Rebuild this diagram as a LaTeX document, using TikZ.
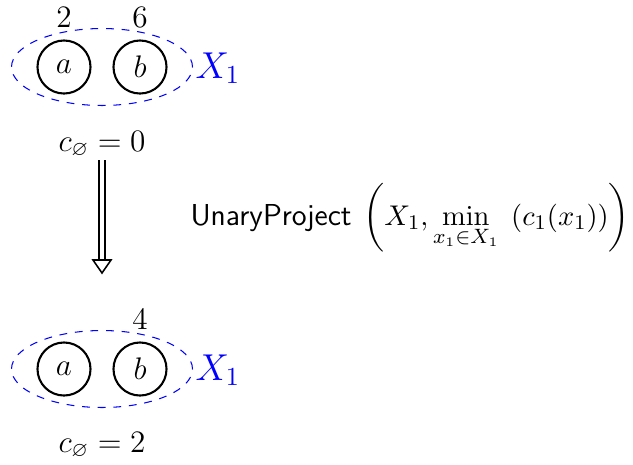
\documentclass[tikz,border=0pt]{standalone}
\usepackage{amsmath,amssymb}
\usetikzlibrary{shapes.geometric}
\begin{document}
\begin{tikzpicture}[x=0.3846pt,y=-0.3846pt,
  var/.style={circle,draw,thick,minimum size=20.4pt,inner sep=0pt,font=\large},
  grp/.style={ellipse,draw=blue,dashed,minimum width=69.6pt,minimum height=29.6pt,inner sep=0pt},
  wt/.style={anchor=base,inner sep=0pt,font=\large},
  setlbl/.style={anchor=base west,inner sep=0pt,text=blue,font=\Large},
  cost/.style={anchor=base,inner sep=0pt,font=\large}]
\useasboundingbox (0,0) rectangle (633,464);
% top
\node[grp] (g1) at (102,67) {};
\node[var] (a1) at (64,67) {$a$};
\node[var] (b1) at (140,67) {$b$};
\node[wt] (w2) at (64,27) {$2$};
\node[wt] (w6) at (140,27) {$6$};
\node[setlbl] (lx1) at (195,78) {$X_1$};
\node[cost] (c1) at (102,151) {$c_\varnothing = 0$};
% bottom
\node[grp] (g2) at (102,369) {};
\node[var] (a2) at (64,369) {$a$};
\node[var] (b2) at (140,369) {$b$};
\node[wt] (w4) at (140,329) {$4$};
\node[setlbl] (lx2) at (195,380) {$X_1$};
\node[cost] (c2) at (102,452) {$c_\varnothing = 2$};
% arrow
\coordinate (s) at (102,160);
\coordinate (hb) at (102,260);
\coordinate (e) at (102,273);
\draw[double,line width=0.6pt,double distance=1.7pt] (s) -- (hb);
\draw[line width=0.6pt,fill=white,line join=miter] (93,260) -- (111,260) -- (e) -- cycle;
\node[anchor=base west,inner sep=0pt] (lbl) at (190,225)
  {{\fontsize{11.65}{14}\selectfont\textsf{UnaryProject}}\hskip 4.5pt{\fontsize{11}{13}\selectfont$\displaystyle\left(X_1, \min_{x_1\in X_1}\hskip 3pt\left(c_1(x_1)\right)\right)$}};
\end{tikzpicture}
\end{document}
